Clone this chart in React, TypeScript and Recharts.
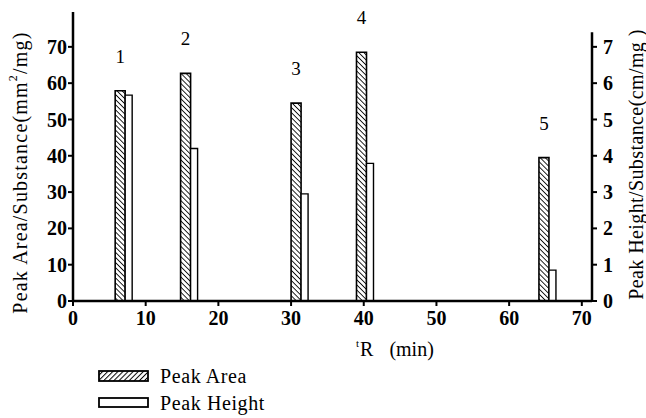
import React from "react";
import { BarChart, Bar, XAxis, YAxis, LabelList, ReferenceLine } from "recharts";

// ---- data ----
const peaks = ["1", "2", "3", "4", "5"];
const retentionTimes = [7.0, 16.0, 31.2, 40.2, 65.3];
const peakArea = [57.9, 62.7, 54.5, 68.5, 39.5];
const peakHeight = [5.67, 4.2, 2.95, 3.79, 0.85];
const xTicks = [0, 10, 20, 30, 40, 50, 60, 70];
const leftTicks = [0, 10, 20, 30, 40, 50, 60, 70];
const rightTicks = [0, 1, 2, 3, 4, 5, 6, 7];
const xMax = 71.4;
const leftMax = 79.6;
const rightMax = 7.96;
const rightAxisTop = 7.4;

const data = peaks.map((p, i) => ({
  peak: p,
  t: retentionTimes[i],
  area: peakArea[i],
  height: peakHeight[i],
}));

const FONT = "'Liberation Serif', 'Times New Roman', serif";
const tickStyle = { fontFamily: FONT, fontSize: 20, fontWeight: 700, fill: "#000" };

const XLabel = (props: any) => {
  const vb = props.viewBox || {};
  const x = vb.x + 283;
  const y = vb.y + 55;
  return (
    <text x={x} y={y} fontFamily={FONT} fill="#000" fontSize={20}>
      <tspan fontSize={11} dy={-9}>t</tspan>
      <tspan dx={1} dy={9}>R</tspan>
      <tspan dx={16}>(min)</tspan>
    </text>
  );
};

const LeftLabel = (props: any) => {
  const vb = props.viewBox || {};
  const x = 20;
  const y = vb.y + vb.height / 2 + 16;
  return (
    <text
      x={x}
      y={y}
      transform={`rotate(-90, ${x}, ${y})`}
      textAnchor="middle"
      dominantBaseline="central"
      fontFamily={FONT}
      fontSize={20}
      letterSpacing={1.2}
      fill="#000"
    >
      Peak Area/Substance(mm<tspan fontSize={12} dy={-7}>2</tspan>
      <tspan dy={7}>/mg)</tspan>
    </text>
  );
};

const RightLabel = (props: any) => {
  const vb = props.viewBox || {};
  const x = 636;
  const y = vb.y + vb.height / 2 + 8;
  return (
    <text
      x={x}
      y={y}
      transform={`rotate(-90, ${x}, ${y})`}
      textAnchor="middle"
      dominantBaseline="central"
      fontFamily={FONT}
      fontSize={20}
      letterSpacing={0.4}
      fill="#000"
    >
      Peak Height/Substance(cm/mg )
    </text>
  );
};

const LegendOverlay = () => (
  <svg width={646} height={418} style={{ position: "absolute", left: 0, top: 0, pointerEvents: "none" }}>
    <defs>
      <pattern id="legendHatch" patternUnits="userSpaceOnUse" width={3.6} height={3.6} patternTransform="rotate(45)">
        <line x1={0} y1={0} x2={0} y2={3.6} stroke="#000" strokeWidth={2} />
      </pattern>
    </defs>
    <rect x={99} y={371} width={49} height={10} fill="url(#legendHatch)" stroke="#000" strokeWidth={1.8} />
    <text x={160} y={383} fontFamily={FONT} fontSize={20} letterSpacing={0.6} fill="#000">Peak Area</text>
    <rect x={99} y={398} width={49} height={9} fill="#fff" stroke="#000" strokeWidth={1.8} />
    <text x={160} y={410} fontFamily={FONT} fontSize={20} letterSpacing={0.6} fill="#000">Peak Height</text>
  </svg>
);

export default function App() {
  return (
    <div style={{ position: "absolute", left: 0, top: 0, width: 646, height: 418, background: "#fff" }}>
      <BarChart
        width={646}
        height={418}
        data={data}
        margin={{ top: 12, right: 0, left: 0, bottom: 67 }}
        barGap={0}
      >
        <defs>
          <pattern id="barHatch" patternUnits="userSpaceOnUse" width={3.6} height={3.6} patternTransform="rotate(-45)">
            <line x1={0} y1={0} x2={0} y2={3.6} stroke="#000" strokeWidth={1.7} />
          </pattern>
        </defs>
        <XAxis
          dataKey="t"
          type="number"
          domain={[0, xMax]}
          ticks={xTicks}
          allowDataOverflow
          height={50}
          tick={tickStyle}
          tickSize={5}
          tickMargin={5}
          axisLine={{ stroke: "#000", strokeWidth: 2.5 }}
          tickLine={{ stroke: "#000", strokeWidth: 2 }}
          label={<XLabel />}
        />
        <YAxis
          yAxisId="left"
          orientation="left"
          width={73}
          domain={[0, leftMax]}
          ticks={leftTicks}
          allowDataOverflow
          tick={tickStyle}
          tickSize={5}
          tickMargin={1}
          axisLine={{ stroke: "#000", strokeWidth: 2.5 }}
          tickLine={{ stroke: "#000", strokeWidth: 2 }}
          label={<LeftLabel />}
        />
        <YAxis
          yAxisId="right"
          orientation="right"
          width={54}
          domain={[0, rightMax]}
          ticks={rightTicks}
          allowDataOverflow
          tick={tickStyle}
          tickSize={5}
          tickMargin={6}
          axisLine={false}
          tickLine={{ stroke: "#000", strokeWidth: 2 }}
          label={<RightLabel />}
        />
        <ReferenceLine
          yAxisId="right"
          segment={[
            { x: xMax, y: 0 },
            { x: xMax, y: rightAxisTop },
          ]}
          stroke="#000"
          strokeWidth={2.5}
          ifOverflow="visible"
        />
        <Bar
          yAxisId="left"
          dataKey="area"
          barSize={10}
          fill="url(#barHatch)"
          stroke="#000"
          strokeWidth={1.6}
          isAnimationActive={false}
        >
          <LabelList
            dataKey="peak"
            position="top"
            offset={28}
            style={{ fontFamily: FONT, fontSize: 19, fill: "#000" }}
          />
        </Bar>
        <Bar
          yAxisId="right"
          dataKey="height"
          barSize={7}
          fill="#fff"
          stroke="#000"
          strokeWidth={1.4}
          isAnimationActive={false}
        />
      </BarChart>
      <LegendOverlay />
    </div>
  );
}
